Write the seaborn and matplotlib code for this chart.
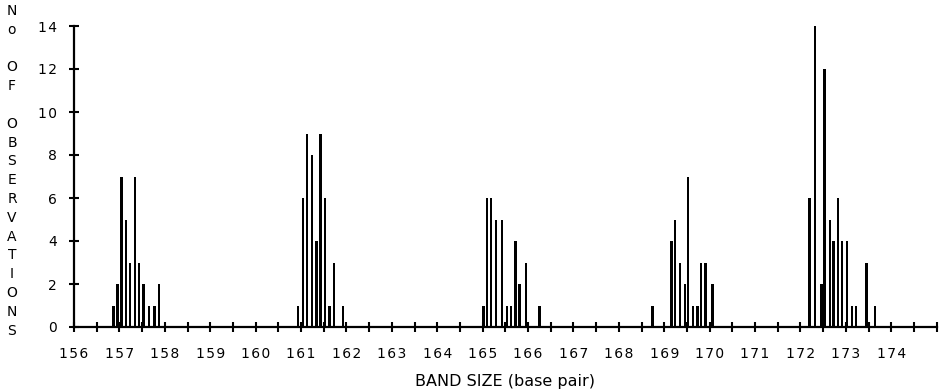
import matplotlib
matplotlib.use("Agg")
import matplotlib.pyplot as plt
import seaborn as sns
import pandas as pd
from matplotlib.ticker import MultipleLocator

band_157 = [156.87, 156.96, 157.05, 157.14, 157.24, 157.34, 157.43, 157.53, 157.65, 157.77, 157.87]
obs_157 = [1, 2, 7, 5, 3, 7, 3, 2, 1, 1, 2]

band_161 = [160.93, 161.04, 161.13, 161.24, 161.34, 161.43, 161.53, 161.63, 161.73, 161.93]
obs_161 = [1, 6, 9, 8, 4, 9, 6, 1, 3, 1]

band_165 = [165.02, 165.10, 165.19, 165.29, 165.43, 165.54, 165.63, 165.72, 165.81, 165.96, 166.25]
obs_165 = [1, 6, 6, 5, 5, 1, 1, 4, 2, 3, 1]

band_169 = [168.74, 169.16, 169.24, 169.35, 169.45, 169.52, 169.63, 169.73, 169.81, 169.91, 170.06]
obs_169 = [1, 4, 5, 3, 2, 7, 1, 1, 3, 3, 2]

band_172 = [172.20, 172.32, 172.46, 172.53, 172.65, 172.73, 172.82, 172.92, 173.02, 173.13,
            173.22, 173.45, 173.64]
obs_172 = [6, 14, 2, 12, 5, 4, 6, 4, 4, 1, 1, 3, 1]

x_ticks = list(range(156, 175))
y_ticks = [0, 2, 4, 6, 8, 10, 12, 14]
y_title = ["N", "o", "", "O", "F", "", "O", "B", "S", "E", "R", "V", "A", "T", "I", "O", "N", "S"]

df = pd.DataFrame({
    "band": band_157 + band_161 + band_165 + band_169 + band_172,
    "obs": obs_157 + obs_161 + obs_165 + obs_169 + obs_172,
})

sns.set_style("white")
plt.rcParams["font.family"] = ["DejaVu Sans"]
plt.rcParams["text.color"] = "black"

fig = plt.figure(figsize=(9.42, 3.92), dpi=100)
ax = fig.add_axes([74 / 942, 65 / 392, (936.7 - 74) / 942, 301 / 392])

sns.barplot(data=df, x="band", y="obs", native_scale=True, errorbar=None,
            color="black", saturation=1, linewidth=0, ax=ax)

# thin bars of equal width, centred on each band size
bar_w = 0.052
for p in ax.patches:
    cx = p.get_x() + p.get_width() / 2
    p.set_width(bar_w)
    p.set_x(cx - bar_w / 2)
    p.set_antialiased(False)

ax.set_xlim(156, 175)
ax.set_ylim(0, 14)
ax.set_xticks(x_ticks)
# slightly spaced digits like the original labels
ax.set_xticklabels(["\u200a".join(str(t)) for t in x_ticks])
ax.xaxis.set_minor_locator(MultipleLocator(0.5))
ax.set_yticks(y_ticks)
ax.set_yticklabels(["\u200a".join(str(t)) for t in y_ticks])

for side in ["top", "right"]:
    ax.spines[side].set_visible(False)
for side in ["left", "bottom"]:
    ax.spines[side].set_linewidth(1.6)
    ax.spines[side].set_color("black")

ax.tick_params(axis="both", which="both", direction="inout", length=7, width=1.5,
               color="black", labelsize=10, labelcolor="black",
               bottom=True, left=True)
ax.tick_params(axis="x", which="major", pad=11)
ax.tick_params(axis="y", which="major", pad=9)

ax.set_xlabel("BAND SIZE (base pair)", fontsize=11.5, color="black")
ax.xaxis.set_label_coords(0.5, -0.157)
ax.set_ylabel("")

# vertical stacked axis title
for i, ch in enumerate(y_title):
    fig.text(12 / 942, 1 - (11 + i * 18.8) / 392, ch, ha="center", va="center",
             fontsize=10, color="black")

fig.savefig("out.png", dpi=100)
